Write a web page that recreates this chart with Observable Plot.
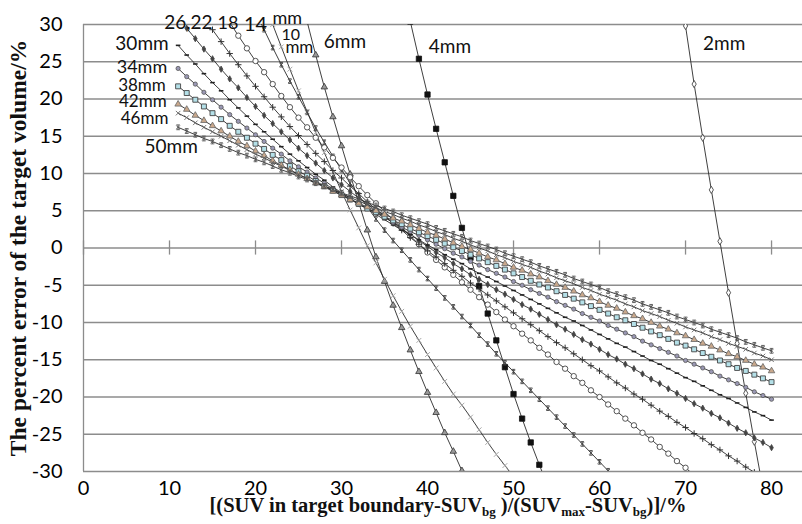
<!DOCTYPE html>
<html>
<head>
<meta charset="utf-8">
<script src="https://cdn.jsdelivr.net/npm/d3@7"></script>
<script src="https://cdn.jsdelivr.net/npm/@observablehq/plot@0.6"></script>
<style>
  html, body { margin: 0; padding: 0; background: #fff; }
  #chart svg { display: block; }
</style>
</head>
<body>
<div id="chart"></div>
<script>
// ---- data ----
const xTicks = [0, 10, 20, 30, 40, 50, 60, 70, 80];
const yTicks = [-30, -25, -20, -15, -10, -5, 0, 5, 10, 15, 20, 25, 30];

const seriesNames = ["2mm","4mm","6mm","10mm","14mm","18mm","22mm","26mm","30mm","34mm","38mm","42mm","46mm","50mm"];
// first threshold (%) of each series; values follow at 1% steps
const seriesStart = [70, 38, 26, 22, 20, 17, 15, 12, 11, 11, 11, 11, 11, 11];

const v2 = [29.8, 22.0, 14.8, 7.8, 0.9, -6.0, -12.8, -19.5, -26.0, -32.3];
const v4 = [30.4, 25.4, 20.6, 16.0, 11.5, 7.0, 2.7, -1.3, -5.1, -8.8, -12.4, -16.0, -19.6, -22.9, -26.1, -29.1, -32.0];
const v6 = [30.4, 25.9, 21.6, 17.6, 13.7, 9.9, 6.1, 2.4, -1.2, -4.5, -7.7, -10.7, -13.7, -16.6, -19.4, -22.1, -24.8, -27.3, -29.9, -32.3];
const v10 = [30.0, 27.0, 24.0, 21.1, 18.3, 15.5, 12.8, 10.2, 7.6, 5.1, 2.7, 0.3, -2.0, -4.2, -6.4, -8.5, -10.5, -12.4, -14.3, -16.1, -17.9, -19.6, -21.1, -22.7, -24.4, -26.1, -27.7, -29.2, -30.7];
const v14 = [31.7, 29.3, 26.9, 24.6, 22.4, 20.3, 18.2, 16.1, 14.2, 12.3, 10.5, 8.7, 7.1, 5.5, 3.9, 2.4, 1.0, -0.3, -1.6, -2.9, -4.1, -5.4, -6.7, -7.9, -9.2, -10.4, -11.7, -12.9, -14.2, -15.4, -16.6, -17.9, -19.1, -20.3, -21.5, -22.7, -23.9, -25.1, -26.3, -27.5, -28.7, -29.9, -31.1];
const v18 = [30.3, 28.5, 26.8, 25.1, 23.6, 22.0, 20.4, 18.9, 17.5, 16.2, 14.8, 13.5, 12.1, 10.8, 9.5, 8.3, 7.1, 6.0, 4.9, 3.8, 2.7, 1.6, 0.5, -0.6, -1.6, -2.6, -3.6, -4.6, -5.6, -6.6, -7.6, -8.6, -9.6, -10.5, -11.5, -12.4, -13.4, -14.3, -15.3, -16.2, -17.2, -18.1, -19.1, -20.0, -21.0, -21.9, -22.9, -23.8, -24.8, -25.7, -26.7, -27.6, -28.6, -29.5, -30.5];
const v22 = [29.3, 27.7, 26.1, 24.6, 23.1, 21.7, 20.3, 18.9, 17.6, 16.3, 15.1, 13.9, 12.7, 11.6, 10.4, 9.4, 8.3, 7.3, 6.2, 5.2, 4.3, 3.3, 2.4, 1.4, 0.5, -0.4, -1.2, -2.1, -3.0, -3.8, -4.7, -5.5, -6.3, -7.1, -7.9, -8.7, -9.5, -10.3, -11.1, -11.9, -12.7, -13.4, -14.2, -15.0, -15.8, -16.5, -17.3, -18.1, -18.8, -19.6, -20.3, -21.1, -21.9, -22.6, -23.4, -24.1, -24.9, -25.6, -26.4, -27.1, -27.9, -28.6, -29.4, -30.1];
const v26 = [29.5, 28.1, 26.7, 25.4, 24.0, 22.7, 21.5, 20.2, 19.0, 17.8, 16.7, 15.6, 14.5, 13.4, 12.4, 11.4, 10.4, 9.4, 8.5, 7.6, 6.7, 5.9, 5.0, 4.2, 3.4, 2.6, 1.8, 1.0, 0.2, -0.6, -1.3, -2.1, -2.8, -3.6, -4.2, -4.9, -5.6, -6.2, -6.9, -7.6, -8.2, -8.9, -9.6, -10.3, -10.9, -11.6, -12.3, -12.9, -13.6, -14.3, -14.9, -15.6, -16.2, -16.9, -17.6, -18.2, -18.9, -19.5, -20.2, -20.9, -21.5, -22.2, -22.8, -23.5, -24.2, -24.8, -25.5, -26.1, -26.8];
const v30 = [27.2, 25.9, 24.7, 23.4, 22.2, 21.1, 19.9, 18.8, 17.7, 16.6, 15.6, 14.6, 13.6, 12.6, 11.7, 10.8, 9.9, 9.1, 8.2, 7.4, 6.7, 5.9, 5.2, 4.5, 3.8, 3.1, 2.4, 1.8, 1.1, 0.4, -0.2, -0.9, -1.5, -2.1, -2.8, -3.4, -3.9, -4.5, -5.1, -5.7, -6.3, -6.9, -7.5, -8.1, -8.7, -9.3, -9.8, -10.4, -11.0, -11.6, -12.2, -12.8, -13.3, -13.9, -14.5, -15.1, -15.6, -16.2, -16.8, -17.4, -17.9, -18.5, -19.1, -19.7, -20.2, -20.8, -21.4, -22.0, -22.5, -23.1];
const v34 = [24.1, 23.0, 22.0, 20.9, 19.9, 18.9, 17.9, 17.0, 16.1, 15.2, 14.3, 13.4, 12.6, 11.7, 10.9, 10.2, 9.4, 8.7, 7.9, 7.2, 6.6, 5.9, 5.3, 4.7, 4.1, 3.4, 2.8, 2.2, 1.7, 1.1, 0.5, -0.1, -0.7, -1.2, -1.8, -2.3, -2.9, -3.4, -3.9, -4.5, -5.0, -5.6, -6.1, -6.6, -7.2, -7.7, -8.2, -8.8, -9.3, -9.8, -10.4, -10.9, -11.4, -11.9, -12.5, -13.0, -13.5, -14.0, -14.5, -15.1, -15.6, -16.1, -16.6, -17.2, -17.7, -18.2, -18.7, -19.3, -19.8, -20.3];
const v38 = [21.7, 20.8, 19.9, 19.0, 18.1, 17.3, 16.4, 15.6, 14.8, 14.0, 13.3, 12.5, 11.8, 11.0, 10.3, 9.7, 9.0, 8.3, 7.7, 7.1, 6.5, 5.9, 5.3, 4.8, 4.2, 3.7, 3.2, 2.6, 2.1, 1.6, 1.1, 0.6, 0.1, -0.4, -0.9, -1.4, -1.9, -2.4, -2.9, -3.4, -3.9, -4.4, -4.9, -5.3, -5.8, -6.3, -6.8, -7.3, -7.8, -8.3, -8.8, -9.3, -9.7, -10.2, -10.7, -11.2, -11.7, -12.2, -12.7, -13.1, -13.6, -14.1, -14.6, -15.1, -15.6, -16.1, -16.5, -17.0, -17.5, -18.0];
const v42 = [19.3, 18.6, 17.8, 17.1, 16.4, 15.7, 15.0, 14.3, 13.7, 13.0, 12.4, 11.7, 11.1, 10.5, 9.9, 9.3, 8.7, 8.2, 7.6, 7.1, 6.5, 6.0, 5.5, 5.0, 4.5, 4.0, 3.6, 3.1, 2.6, 2.1, 1.7, 1.2, 0.7, 0.2, -0.2, -0.7, -1.2, -1.6, -2.1, -2.6, -3.0, -3.5, -3.9, -4.4, -4.9, -5.3, -5.8, -6.3, -6.7, -7.2, -7.7, -8.1, -8.6, -9.1, -9.5, -10.0, -10.5, -10.9, -11.4, -11.8, -12.3, -12.8, -13.2, -13.7, -14.2, -14.6, -15.1, -15.6, -16.0, -16.5];
const v46 = [18.1, 17.5, 16.8, 16.2, 15.6, 15.0, 14.4, 13.8, 13.2, 12.6, 12.1, 11.5, 11.0, 10.4, 9.9, 9.3, 8.8, 8.3, 7.8, 7.3, 6.8, 6.3, 5.8, 5.4, 4.9, 4.5, 4.0, 3.6, 3.1, 2.7, 2.2, 1.8, 1.3, 0.9, 0.4, 0.0, -0.4, -0.9, -1.3, -1.8, -2.2, -2.6, -3.1, -3.5, -4.0, -4.4, -4.8, -5.3, -5.7, -6.2, -6.6, -7.0, -7.5, -7.9, -8.4, -8.8, -9.2, -9.7, -10.1, -10.6, -11.0, -11.4, -11.9, -12.3, -12.8, -13.2, -13.6, -14.1, -14.5, -15.0];
const v50 = [16.2, 15.7, 15.2, 14.7, 14.3, 13.8, 13.3, 12.8, 12.4, 11.9, 11.5, 11.0, 10.5, 10.1, 9.6, 9.2, 8.7, 8.3, 7.9, 7.4, 7.0, 6.6, 6.1, 5.7, 5.3, 4.9, 4.4, 4.0, 3.6, 3.2, 2.7, 2.3, 1.9, 1.5, 1.0, 0.6, 0.2, -0.2, -0.7, -1.1, -1.5, -1.9, -2.4, -2.8, -3.2, -3.6, -4.1, -4.5, -4.9, -5.3, -5.8, -6.2, -6.6, -7.0, -7.5, -7.9, -8.3, -8.7, -9.2, -9.6, -10.0, -10.4, -10.9, -11.3, -11.7, -12.1, -12.6, -13.0, -13.4, -13.8];

const seriesValues = [v2, v4, v6, v10, v14, v18, v22, v26, v30, v34, v38, v42, v46, v50];

// series labels as they are written on the chart
const labelTexts = ["26,22", "18", "14", "mm", "10", "mm", "6mm", "4mm", "2mm", "30mm", "34mm", "38mm", "42mm", "46mm", "50mm"];
const labelX = [12.2, 16.8, 20.0, 23.7, 24.1, 25.1, 30.4, 42.6, 74.5, 6.8, 6.8, 6.8, 6.9, 7.1, 10.2];
const labelY = [30.2, 30.2, 30.0, 30.8, 28.6, 26.9, 27.6, 27.0, 27.4, 27.4, 24.2, 21.8, 19.6, 17.4, 13.6];
const labelSize = [19, 18, 20, 18, 16, 17, 19, 19, 19, 19, 18, 17, 17, 17, 19];

// ---- build the tidy table ----
const rows = [];
seriesNames.forEach((name, i) => {
  seriesValues[i].forEach((v, j) => rows.push({series: name, x: seriesStart[i] + j, y: v}));
});
const labels = labelTexts.map((t, i) => ({text: t, x: labelX[i], y: labelY[i], size: labelSize[i]}));

// ---- marker styles ----
const dashSym = {draw(ctx, size) { const r = Math.sqrt(size / Math.PI); ctx.moveTo(-r, 0); ctx.lineTo(r, 0); }};
const starSym = {draw(ctx, size) {
  const r = Math.sqrt(size / Math.PI), w = r * 0.75;
  ctx.moveTo(-w, -r); ctx.lineTo(w, -r);
  ctx.moveTo(0, -r); ctx.lineTo(0, r);
  ctx.moveTo(-w, r); ctx.lineTo(w, r);
  ctx.moveTo(-w, -w); ctx.lineTo(w, w);
  ctx.moveTo(w, -w); ctx.lineTo(-w, w);
}};
const markerStyle = {
  "2mm":  {symbol: "diamond", r: 2.2, fill: "#fff", stroke: "#444", strokeWidth: 0.9},
  "4mm":  {symbol: "square", r: 3.0, fill: "#111", stroke: "#111", strokeWidth: 0.8},
  "6mm":  {symbol: "triangle", r: 2.4, fill: "#999", stroke: "#333", strokeWidth: 0.8},
  "10mm": {symbol: "times", r: 2.3, fill: "none", stroke: "#a8a8a8", strokeWidth: 1},
  "14mm": {symbol: starSym, r: 2.3, fill: "none", stroke: "#444", strokeWidth: 0.9},
  "18mm": {symbol: "circle", r: 2.7, fill: "#fff", stroke: "#444", strokeWidth: 0.9},
  "22mm": {symbol: "plus", r: 2.2, fill: "none", stroke: "#333", strokeWidth: 1},
  "26mm": {symbol: "diamond", r: 1.9, fill: "#444", stroke: "#444", strokeWidth: 0.8},
  "30mm": {symbol: dashSym, r: 2.3, fill: "none", stroke: "#222", strokeWidth: 1.6},
  "34mm": {symbol: "circle", r: 2.1, fill: "#9a98b4", stroke: "#555", strokeWidth: 0.8},
  "38mm": {symbol: "square", r: 2.8, fill: "#b4e0e8", stroke: "#444", strokeWidth: 0.9},
  "42mm": {symbol: "triangle", r: 2.4, fill: "#c9a88c", stroke: "#666", strokeWidth: 0.8},
  "46mm": {symbol: "times", r: 2.2, fill: "none", stroke: "#666", strokeWidth: 0.9},
  "50mm": {symbol: starSym, r: 2.4, fill: "none", stroke: "#555", strokeWidth: 0.9}
};

const gridColor = "#8c8c8c";
const sans = "Lato, 'Open Sans', sans-serif";
const serif = "'Liberation Serif', 'DejaVu Serif', serif";

const dotMarks = seriesNames.map(name => Plot.dot(rows.filter(d => d.series === name), {
  x: "x", y: "y", clip: true, ...markerStyle[name]
}));

const chart = Plot.plot({
  width: 802,
  height: 524,
  marginLeft: 83,
  marginRight: 0,
  marginTop: 24,
  marginBottom: 53,
  style: {fontFamily: sans, fontSize: "20px", color: "#000", background: "#fff", overflow: "visible"},
  x: {domain: [0, 83.6]},
  y: {domain: [-30, 30]},
  marks: [
    Plot.ruleY(yTicks, {stroke: gridColor, strokeWidth: 1.3}),
    Plot.ruleX([0], {stroke: gridColor, strokeWidth: 1.3}),
    Plot.ruleX(xTicks, {x: d => d, y1: -0.95, y2: 0.95, stroke: gridColor, strokeWidth: 1.3}),
    Plot.axisX({ticks: xTicks, tickSize: 0, tickPadding: 9, tickFormat: d => String(d), label: null, fontSize: 20}),
    Plot.axisY({ticks: yTicks, tickSize: 0, tickPadding: 21, tickFormat: d => String(d), label: null, fontSize: 20}),
    Plot.line(rows, {x: "x", y: "y", z: "series", stroke: "#2a2a2a", strokeWidth: 0.9, clip: true}),
    ...dotMarks,
    Plot.text(labels, {x: "x", y: "y", text: "text", fontSize: d => d.size, fill: "#111", fontFamily: sans})
  ]
});

// axis titles (real text, with subscripts)
const svg = d3.select(chart);
svg.append("text")
  .attr("transform", "translate(21,248) rotate(-90)")
  .attr("text-anchor", "middle")
  .attr("dominant-baseline", "middle")
  .attr("font-family", serif)
  .attr("font-weight", "bold")
  .attr("font-size", 23.5)
  .attr("fill", "#111")
  .text("The percent error of the target volume/%");

const xl = svg.append("text")
  .attr("x", 448).attr("y", 512)
  .attr("text-anchor", "middle")
  .attr("font-family", serif)
  .attr("font-weight", "bold")
  .attr("font-size", 20.5)
  .attr("fill", "#111");
const parts = [["[(SUV in target boundary-SUV", false], ["bg", true], [" )/(SUV", false], ["max", true], ["-SUV", false], ["bg", true], [")]/%", false]];
parts.forEach(([t, sub]) => {
  const ts = xl.append("tspan").text(t);
  if (sub) ts.attr("font-size", 13).attr("dy", 4);
  else ts.attr("dy", t.startsWith("[") ? 0 : -4);
});

document.getElementById("chart").appendChild(chart);
</script>
</body>
</html>
